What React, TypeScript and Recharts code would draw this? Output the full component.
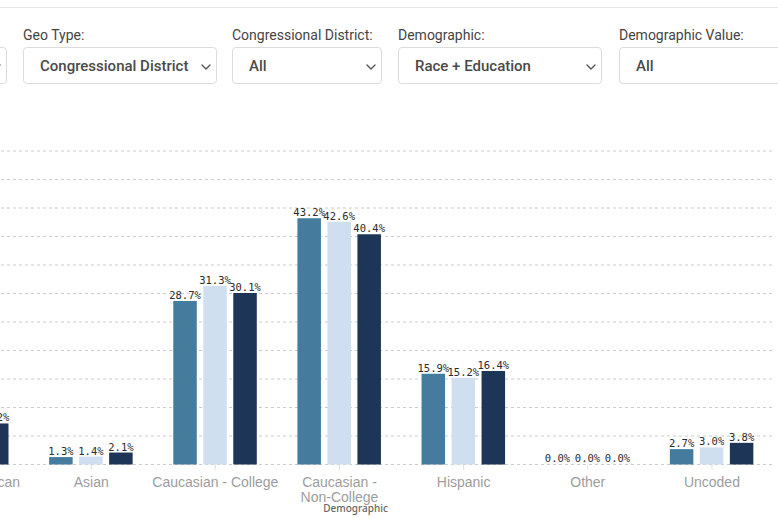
import React from "react";
import { BarChart, Bar, XAxis, YAxis, CartesianGrid, LabelList, Label } from "recharts";

const categories = [
  "African American",
  "Asian",
  "Caucasian - College",
  "Caucasian - Non-College",
  "Hispanic",
  "Other",
  "Uncoded",
];
const seriesA = [8.2, 1.3, 28.7, 43.2, 15.9, 0.0, 2.7];
const seriesB = [6.5, 1.4, 31.3, 42.6, 15.2, 0.0, 3.0];
const seriesC = [7.2, 2.1, 30.1, 40.4, 16.4, 0.0, 3.8];
const yTicks = [0, 5, 10, 15, 20, 25, 30, 35, 40, 45, 50, 55];

const filters = [
  { label: "Geo Type:", value: "Congressional District", x: 23, w: 194 },
  { label: "Congressional District:", value: "All", x: 232, w: 150 },
  { label: "Demographic:", value: "Race + Education", x: 398, w: 204 },
  { label: "Demographic Value:", value: "All", x: 619, w: 220 },
];

const data = categories.map((c, i) => ({
  category: c,
  seriesA: seriesA[i],
  seriesB: seriesB[i],
  seriesC: seriesC[i],
}));

const wrap = (s: string, max = 20) => {
  const words = s.split(" ");
  const lines: string[] = [];
  let cur = "";
  for (const w of words) {
    const next = cur ? cur + " " + w : w;
    if (next.length > max && cur) {
      lines.push(cur);
      cur = w;
    } else cur = next;
  }
  if (cur) lines.push(cur);
  return lines;
};

const CategoryTick = (props: any) => {
  const { x, y, payload } = props;
  const lines = wrap(String(payload.value));
  return (
    <text
      x={x}
      y={y}
      textAnchor="middle"
      fill="#9d9d9d"
      fontSize={14}
      fontFamily="'Liberation Sans', Arial, sans-serif"
    >
      {lines.map((l, i) => (
        <tspan key={i} x={x} dy={i === 0 ? 15 : 15.5}>
          {l}
        </tspan>
      ))}
    </text>
  );
};

const fmt = (v: any) => Number(v).toFixed(1) + "%";

const Chevron = () => (
  <svg width="10" height="6" viewBox="0 0 10 6" style={{ position: "absolute", right: 5, top: 16 }}>
    <path d="M1 1 L5 5 L9 1" fill="none" stroke="#555" strokeWidth="1.4" strokeLinecap="round" strokeLinejoin="round" />
  </svg>
);

const labelStyle = { fontSize: 10.5, fontFamily: "'DejaVu Sans Mono', monospace", fill: "#2a2a2a" };

export default function App() {
  return (
    <div
      style={{
        position: "absolute",
        left: 0,
        top: 0,
        width: 778,
        height: 518,
        overflow: "hidden",
        background: "#fff",
        fontFamily: "Roboto, 'Noto Sans', sans-serif",
      }}
    >
      <div style={{ position: "absolute", left: 0, top: 7, width: 778, height: 1, background: "#e6e6e6" }} />
      <div
        style={{
          position: "absolute",
          left: -100,
          top: 47,
          width: 107,
          height: 37,
          border: "1px solid #dcdcdc",
          borderRadius: 4,
          boxSizing: "border-box",
        }}
      >
        <Chevron />
      </div>
      {filters.map((f) => (
        <React.Fragment key={f.label}>
          <div
            style={{
              position: "absolute",
              left: f.x,
              top: 25,
              fontSize: 14,
              color: "#444",
              whiteSpace: "nowrap",
              lineHeight: "20px",
            }}
          >
            {f.label}
          </div>
          <div
            style={{
              position: "absolute",
              left: f.x,
              top: 47,
              width: f.w,
              height: 37,
              border: "1px solid #dcdcdc",
              borderRadius: 4,
              boxSizing: "border-box",
            }}
          >
            <div
              style={{
                position: "absolute",
                left: 16,
                top: 8,
                fontSize: 15,
                fontWeight: 500,
                color: "#4a4a4a",
                whiteSpace: "nowrap",
                lineHeight: "20px",
              }}
            >
              {f.value}
            </div>
            <Chevron />
          </div>
        </React.Fragment>
      ))}
      <div style={{ position: "absolute", left: -95, top: 0 }}>
        <BarChart
          width={869}
          height={518}
          data={data}
          margin={{ top: 151, right: 0, bottom: 13.5, left: 0 }}
          barSize={23.5}
          barGap={6.5}
        >
          <CartesianGrid vertical={false} stroke="#cccccc" strokeDasharray="3 3" />
          <YAxis hide domain={[0, 55]} ticks={yTicks} />
          <XAxis
            dataKey="category"
            interval={0}
            axisLine={false}
            tickLine={{ stroke: "#dddddd" }}
            tickSize={5}
            height={40}
            tick={<CategoryTick />}
          >
            <Label
              value="Demographic"
              position="insideBottom"
              offset={-7}
              dx={16}
              style={{ fontSize: 10, fontWeight: 500, fill: "#666", fontFamily: "'Noto Sans', sans-serif" }}
            />
          </XAxis>
          <Bar dataKey="seriesA" fill="#457b9d" minPointSize={0.01} isAnimationActive={false}>
            <LabelList dataKey="seriesA" position="top" offset={2} formatter={fmt} style={labelStyle} />
          </Bar>
          <Bar dataKey="seriesB" fill="#cfdff0" minPointSize={0.01} isAnimationActive={false}>
            <LabelList dataKey="seriesB" position="top" offset={2} formatter={fmt} style={labelStyle} />
          </Bar>
          <Bar dataKey="seriesC" fill="#1d3557" minPointSize={0.01} isAnimationActive={false}>
            <LabelList dataKey="seriesC" position="top" offset={2} formatter={fmt} style={labelStyle} />
          </Bar>
        </BarChart>
      </div>
    </div>
  );
}
